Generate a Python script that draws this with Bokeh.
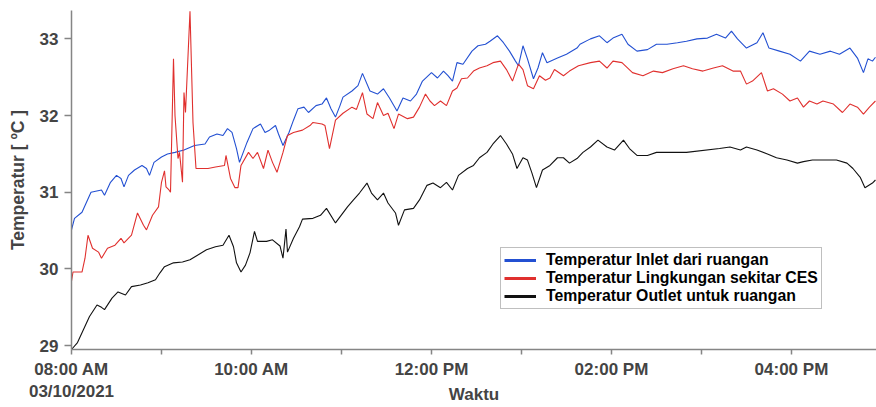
import pandas as pd
from bokeh.plotting import figure
from bokeh.models import Range1d, FixedTicker, CustomJSTickFormatter, Legend, LegendItem
from bokeh.embed import file_html
from bokeh.resources import INLINE

# ---------------- data (minutes after 08:00 on 03/10/2021, temperature in degC) ----------------
start = pd.Timestamp("2021-10-03 08:00")

inlet_min = [0, 2, 7, 10, 13, 20, 22, 26, 30, 33,
             35, 38, 42, 47, 50, 52, 55, 60, 64, 69,
             75, 82, 89, 92, 97, 101, 104, 107, 110, 112,
             117, 121, 126, 129, 132, 136, 138, 141, 145, 148,
             151, 155, 158, 163, 167, 170, 173, 176, 179, 181,
             187, 191, 194, 199, 204, 208, 212, 217, 221, 226,
             230, 234, 240, 244, 248, 251, 254, 257, 261, 267,
             271, 276, 279, 284, 288, 292, 296, 298, 301, 304,
             308, 311, 314, 317, 324, 330, 337, 339, 346, 352,
             357, 361, 367, 371, 377, 384, 390, 397, 404, 410,
             417, 424, 430, 436, 440, 444, 450, 457, 461, 465,
             472, 479, 486, 492, 499, 506, 512, 519, 524, 528,
             531, 534, 536]
inlet_temp = [30.51, 30.66, 30.74, 30.87, 31.00, 31.03, 30.96, 31.13, 31.22, 31.18,
              31.07, 31.22, 31.29, 31.35, 31.31, 31.22, 31.39, 31.46, 31.50, 31.52,
              31.55, 31.61, 31.63, 31.72, 31.76, 31.74, 31.83, 31.78, 31.57, 31.39,
              31.65, 31.83, 31.89, 31.78, 31.81, 31.87, 31.76, 31.61, 31.78, 31.94,
              32.09, 32.11, 32.04, 32.13, 32.15, 32.23, 32.09, 31.98, 32.13, 32.24,
              32.32, 32.39, 32.55, 32.32, 32.28, 32.35, 32.23, 32.06, 32.23, 32.19,
              32.28, 32.45, 32.56, 32.49, 32.58, 32.52, 32.45, 32.69, 32.67, 32.84,
              32.91, 32.93, 32.97, 33.04, 32.95, 32.84, 32.71, 32.65, 32.91, 32.74,
              32.48, 32.62, 32.82, 32.69, 32.75, 32.80, 32.88, 32.93, 33.00, 33.04,
              32.95, 33.01, 33.06, 32.93, 32.84, 32.86, 32.93, 32.93, 32.95, 32.97,
              33.00, 33.01, 33.06, 33.01, 33.10, 33.00, 32.88, 32.95, 33.08, 32.88,
              32.84, 32.80, 32.71, 32.84, 32.80, 32.84, 32.80, 32.88, 32.75, 32.56,
              32.74, 32.71, 32.76]

env_min = [0, 1, 7, 9, 11, 14, 18, 20, 24, 29,
           33, 35, 40, 44, 48, 50, 54, 58, 60, 62,
           63, 65, 66, 68, 69, 71, 72, 74, 75, 76,
           79, 81, 83, 91, 96, 102, 103, 106, 109, 111,
           113, 118, 121, 124, 128, 131, 134, 137, 141, 144,
           148, 154, 159, 161, 167, 169, 172, 176, 181, 187,
           190, 194, 197, 201, 204, 208, 211, 215, 218, 224,
           228, 232, 236, 239, 242, 246, 250, 254, 257, 260,
           264, 268, 272, 277, 281, 286, 290, 294, 298, 301,
           304, 308, 312, 316, 319, 322, 328, 332, 338, 346,
           352, 357, 361, 367, 374, 381, 388, 394, 401, 408,
           414, 421, 428, 434, 441, 446, 450, 454, 460, 464,
           468, 474, 479, 484, 488, 492, 497, 501, 508, 514,
           519, 524, 528, 532, 536]
env_temp = [29.84, 29.96, 29.96, 30.14, 30.44, 30.27, 30.22, 30.14, 30.27, 30.31,
            30.40, 30.34, 30.44, 30.73, 30.57, 30.51, 30.70, 30.81, 31.13, 31.28,
            31.07, 31.03, 31.00, 32.74, 32.00, 31.44, 31.52, 31.13, 32.30, 32.04,
            33.36, 31.91, 31.31, 31.31, 31.33, 31.35, 31.48, 31.18, 31.06, 31.06,
            31.35, 31.52, 31.44, 31.52, 31.31, 31.55, 31.39, 31.26, 31.52, 31.74,
            31.78, 31.81, 31.87, 31.91, 31.89, 31.87, 31.57, 31.94, 32.03, 32.11,
            32.08, 32.30, 32.02, 31.96, 32.17, 32.00, 32.03, 31.83, 32.02, 31.96,
            31.98, 32.11, 32.28, 32.19, 32.13, 32.19, 32.13, 32.32, 32.36, 32.48,
            32.49, 32.58, 32.62, 32.65, 32.69, 32.71, 32.60, 32.45, 32.67, 32.60,
            32.39, 32.35, 32.52, 32.46, 32.49, 32.60, 32.52, 32.58, 32.65, 32.69,
            32.71, 32.62, 32.71, 32.69, 32.56, 32.52, 32.58, 32.56, 32.61, 32.65,
            32.61, 32.58, 32.62, 32.65, 32.58, 32.58, 32.41, 32.45, 32.56, 32.32,
            32.35, 32.28, 32.19, 32.23, 32.11, 32.19, 32.15, 32.19, 32.15, 32.04,
            32.15, 32.11, 32.02, 32.11, 32.19]

out_min = [0, 4, 8, 12, 17, 20, 22, 27, 31, 36,
           40, 46, 51, 56, 59, 62, 68, 74, 79, 84,
           90, 96, 101, 105, 108, 110, 113, 116, 119, 122,
           124, 130, 134, 139, 141, 143, 144, 148, 152, 154,
           161, 166, 170, 176, 179, 184, 188, 192, 197, 200,
           204, 208, 211, 216, 218, 222, 228, 232, 237, 241,
           246, 250, 254, 258, 264, 268, 272, 277, 281, 286,
           290, 294, 297, 301, 304, 307, 310, 314, 319, 324,
           328, 332, 337, 341, 346, 351, 357, 362, 368, 372,
           377, 384, 390, 410, 432, 439, 446, 450, 457, 464,
           470, 477, 484, 488, 494, 510, 517, 521, 526, 529,
           534, 536]
out_temp = [28.95, 29.04, 29.21, 29.38, 29.53, 29.50, 29.47, 29.62, 29.70, 29.66,
            29.77, 29.79, 29.82, 29.86, 29.95, 30.03, 30.08, 30.09, 30.12, 30.18,
            30.25, 30.29, 30.31, 30.44, 30.29, 30.08, 29.96, 30.05, 30.21, 30.49,
            30.36, 30.36, 30.38, 30.30, 30.14, 30.52, 30.22, 30.40, 30.55, 30.65,
            30.66, 30.70, 30.79, 30.60, 30.68, 30.81, 30.90, 30.99, 31.12, 30.99,
            30.90, 30.99, 30.86, 30.73, 30.57, 30.77, 30.79, 30.90, 31.09, 31.12,
            31.06, 31.13, 31.03, 31.22, 31.31, 31.35, 31.45, 31.52, 31.63, 31.74,
            31.63, 31.50, 31.31, 31.45, 31.42, 31.25, 31.06, 31.29, 31.35, 31.45,
            31.45, 31.38, 31.44, 31.52, 31.59, 31.68, 31.59, 31.55, 31.68, 31.57,
            31.48, 31.48, 31.52, 31.52, 31.57, 31.59, 31.55, 31.59, 31.55, 31.50,
            31.45, 31.42, 31.38, 31.40, 31.42, 31.42, 31.38, 31.31, 31.19, 31.06,
            31.12, 31.16]

series_names = ["Temperatur Inlet dari ruangan",
                "Temperatur Lingkungan sekitar CES",
                "Temperatur Outlet untuk ruangan"]
series_colors = ["#2350d2", "#e0302e", "#111111"]

tick_hours = [8, 10, 12, 14, 16]
tick_labels = ["08:00 AM\n03/10/2021", "10:00 AM", "12:00 PM", "02:00 PM", "04:00 PM"]
minor_hours = [9, 11, 13, 15]
y_ticks = [29, 30, 31, 32, 33]


def to_dt(mins):
    return start + pd.to_timedelta(pd.Series(mins, dtype=float), unit="m")


def to_ms(hours):
    return [(start + pd.Timedelta(hours=h - 8)).value / 1e6 for h in hours]


FONT = "Liberation Sans"
AXIS_GREY = "#858585"

p = figure(width=876, height=407, x_axis_type="datetime",
           output_backend="svg", toolbar_location=None,
           x_range=Range1d(start, start + pd.Timedelta(minutes=536.7)),
           y_range=Range1d(28.95, 33.37),
           min_border_left=71, min_border_right=0, min_border_top=10, min_border_bottom=57)
p.outline_line_color = None
p.grid.visible = False
p.background_fill_color = "white"
p.border_fill_color = "white"

for mins, temps, col in [(inlet_min, inlet_temp, series_colors[0]),
                         (env_min, env_temp, series_colors[1]),
                         (out_min, out_temp, series_colors[2])]:
    p.line(to_dt(mins), temps, line_color=col, line_width=1.1)

# legend glyphs (thicker sample lines, no visible data)
leg_items = []
for name, col in zip(series_names, series_colors):
    r = p.line(x=to_dt([0, 0]), y=[float("nan"), float("nan")], line_color=col, line_width=3)
    leg_items.append(LegendItem(label=name, renderers=[r]))

legend = Legend(items=leg_items, location=(429, 40))
legend.label_text_font = FONT
legend.label_text_font_style = "bold"
legend.label_text_font_size = "15.8px"
legend.label_text_color = "black"
legend.glyph_width = 32
legend.glyph_height = 18
legend.label_height = 18
legend.label_standoff = 10
legend.padding = 3
legend.spacing = 0
legend.margin = 0
legend.border_line_color = "#808080"
legend.border_line_width = 1
legend.background_fill_alpha = 1
p.add_layout(legend, "center")

# x axis
xa = p.xaxis[0]
xa.ticker = FixedTicker(ticks=to_ms(tick_hours), minor_ticks=to_ms(minor_hours))
xa.formatter = CustomJSTickFormatter(args=dict(tick_vals=to_ms(tick_hours), tick_texts=tick_labels), code="""
for (let i = 0; i < tick_vals.length; i++) { if (Math.abs(tick_vals[i] - tick) < 1000) return tick_texts[i]; }
return "";
""")
xa.axis_label = "Waktu"
xa.axis_label_text_font = FONT
xa.axis_label_text_font_style = "bold"
xa.axis_label_text_font_size = "17px"
xa.axis_label_standoff = -19
xa.major_label_text_font = FONT
xa.major_label_text_font_style = "bold"
xa.major_label_text_font_size = "17px"
xa.major_label_standoff = 5
xa.major_tick_out = 5
xa.major_tick_in = 0
xa.minor_tick_out = 5
xa.minor_tick_in = 0
xa.axis_line_color = AXIS_GREY
xa.axis_line_width = 1.5
xa.major_tick_line_color = AXIS_GREY
xa.minor_tick_line_color = AXIS_GREY
xa.major_tick_line_width = 1.5
xa.minor_tick_line_width = 1.5

# y axis
ya = p.yaxis[0]
ya.ticker = FixedTicker(ticks=y_ticks)
ya.axis_label = "Temperatur [ ºC ]"
ya.axis_label_text_font = FONT
ya.axis_label_text_font_style = "bold"
ya.axis_label_text_font_size = "17.5px"
ya.axis_label_standoff = 9
ya.major_label_text_font = FONT
ya.major_label_text_font_style = "bold"
ya.major_label_text_font_size = "17px"
ya.major_label_standoff = 6
ya.major_tick_out = 7
ya.major_tick_in = 0
ya.minor_tick_line_color = None
ya.axis_line_color = AXIS_GREY
ya.axis_line_width = 1.5
ya.major_tick_line_color = AXIS_GREY
ya.major_tick_line_width = 1.5

open("out.html", "w").write(file_html(p, INLINE))
